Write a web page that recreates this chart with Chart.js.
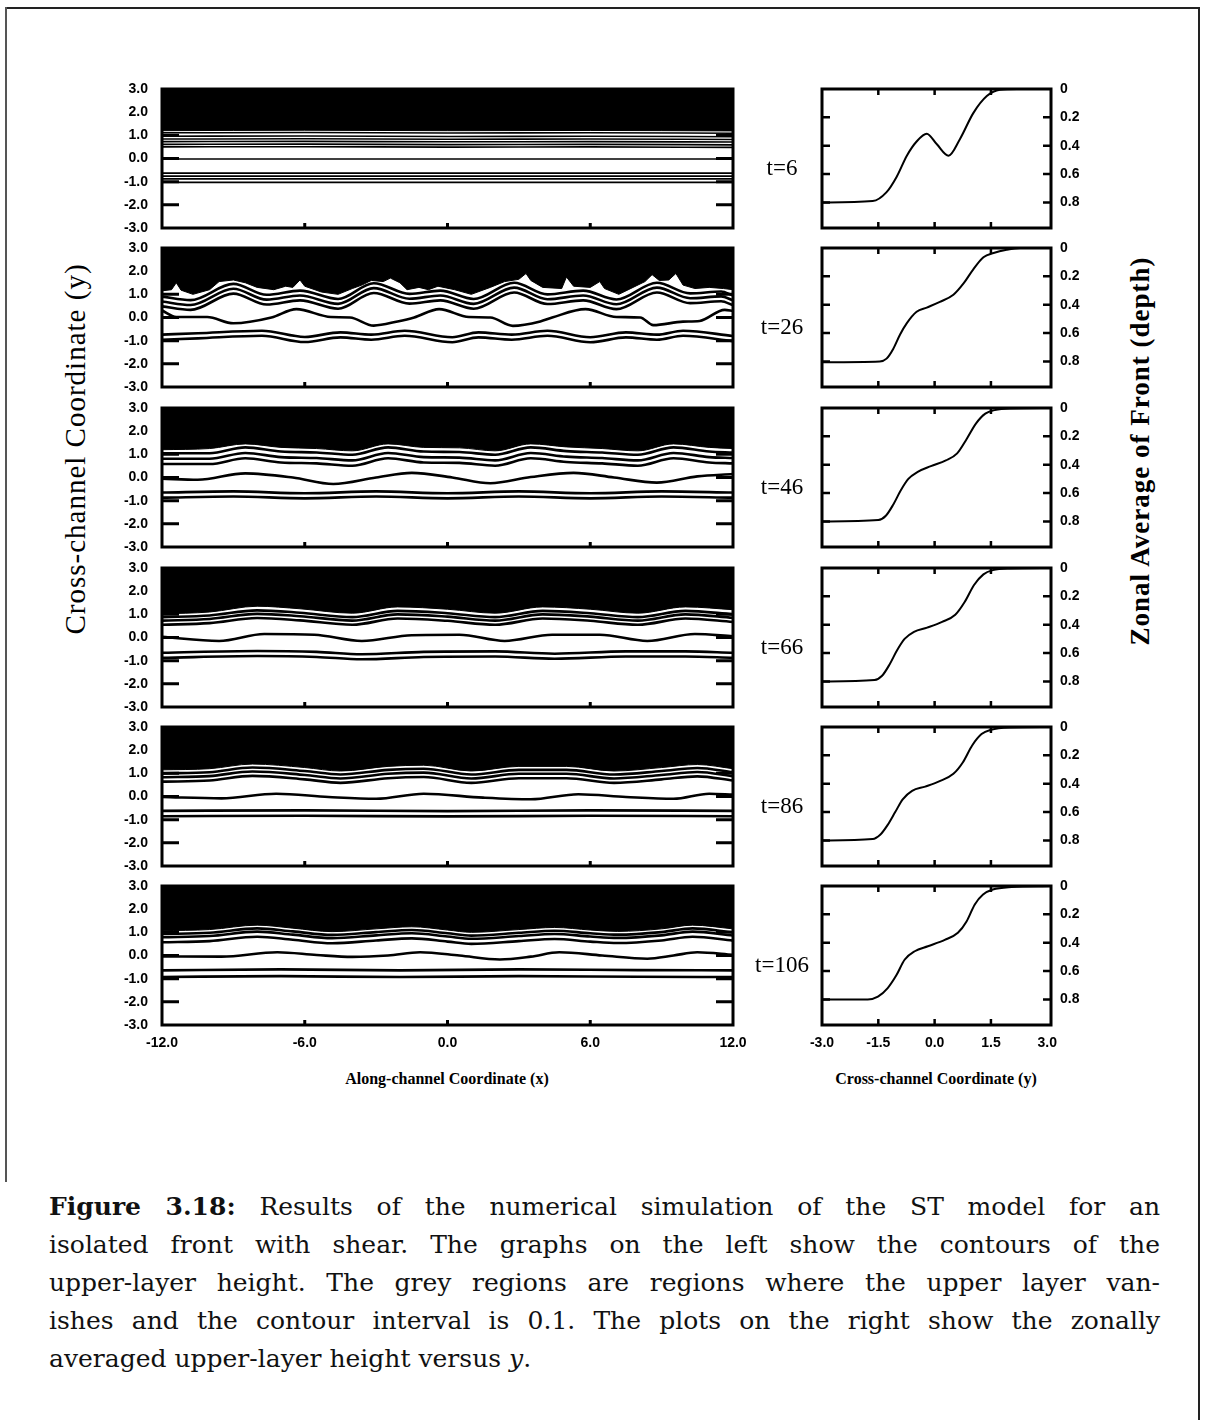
<!DOCTYPE html>
<html lang="en">
<head>
<meta charset="UTF-8" />
<title>Figure 3.18 – ST model, isolated front with shear</title>
<script src="https://cdn.jsdelivr.net/npm/chart.js"></script>
<style>
  body { margin: 0; background: #fff; }
  #page { position: relative; width: 1209px; height: 1420px; overflow: hidden; background: #fff; }
  .rule { position: absolute; background: #222; }
  .tlab { position: absolute; width: 80px; text-align: center; font: 23px "Liberation Serif", serif; color: #000; }
  .xtitle { position: absolute; transform: translateX(-50%); white-space: nowrap; font: bold 16px "Liberation Serif", serif; color: #000; }
  .vtitle { position: absolute; transform: translate(-50%, -50%) rotate(-90deg); white-space: nowrap; font: 29px "Liberation Serif", serif; letter-spacing: 1px; color: #000; }
  #caption { position: absolute; left: 49px; top: 1188px; width: 1111px; font: 25px "DejaVu Serif", serif; color: #111; }
  #caption div { height: 38px; line-height: 38px; white-space: nowrap; text-align: justify; text-align-last: justify; }
  #caption div.last { text-align-last: left; }
</style>
</head>
<body>
<div id="page">
  <div class="rule" style="left:6px;top:7px;width:1194px;height:2px"></div>
  <div class="rule" style="left:5px;top:7px;width:2px;height:1175px;background:#555"></div>
  <div class="rule" style="left:1198px;top:7px;width:2px;height:1413px"></div>

  <div class="vtitle" style="left:75px;top:449px">Cross-channel Coordinate (y)</div>
  <div class="vtitle" style="left:1140px;top:451px;font-weight:bold;font-size:27px">Zonal Average of Front (depth)</div>
  <div class="xtitle" style="left:447px;top:1070px">Along-channel Coordinate (x)</div>
  <div class="xtitle" style="left:936px;top:1070px">Cross-channel Coordinate (y)</div>

  <div id="caption">
    <div><b>Figure 3.18:</b> Results of the numerical simulation of the ST model for an</div>
    <div>isolated front with shear. The graphs on the left show the contours of the</div>
    <div>upper-layer height. The grey regions are regions where the upper layer van-</div>
    <div>ishes and the contour interval is 0.1. The plots on the right show the zonally</div>
    <div class="last">averaged upper-layer height versus <i>y</i>.</div>
  </div>
</div>

<script>
// ---- axis ticks ----
const xTicks = [-12, -6, 0, 6, 12];
const yTicks = [-3, -2, -1, 0, 1, 2, 3];
const profTicks = [-3, -1.5, 0, 1.5, 3];
const depthTicks = [0, 0.2, 0.4, 0.6, 0.8];
const timeLabels = ['t=6', 't=26', 't=46', 't=66', 't=86', 't=106'];

// ---- t=6 contours ----
const edge6X = [-12, -6, 0, 6, 12];
const edge6Y = [1.2, 1.22, 1.2, 1.21, 1.19];
const up6X = [-12, -6, 0, 6, 12];
const up6Y = [1.11, 1.12, 1.1, 1.11, 1.09];
const up6Off = [0, -0.15, -0.27, -0.38, -0.5, -0.61];
const mid6X = [-12, 12];
const mid6Y = [-0.02, -0.02];
const low6X = [-12, 12];
const low6Y = [-0.63, -0.63];
const low6Off = [0, -0.13, -0.25, -0.4];

// ---- t=26 contours ----
const edge26X = [-12, -11.6, -11.4, -11.2, -10.7, -10, -9.6, -9.0, -8.5, -8.0, -7.3, -6.8, -6.5, -6.2, -6.0, -5.3, -4.6, -4.0, -3.6, -3.2, -2.7, -2.4, -2.0, -1.7, -1.2, -0.8, -0.4, 0.3, 1.0, 1.8, 2.4, 3.0, 3.3, 3.5, 4.0, 4.8, 5.0, 5.3, 6.0, 6.4, 6.6, 7.2, 7.8, 8.3, 8.6, 8.9, 9.3, 9.6, 9.9, 10.4, 11.0, 11.6, 12];
const edge26Y = [1.15, 1.2, 1.5, 1.18, 1.0, 1.2, 1.55, 1.62, 1.5, 1.3, 1.2, 1.35, 1.3, 1.62, 1.35, 1.1, 1.0, 1.25, 1.4, 1.6, 1.55, 1.7, 1.5, 1.2, 1.3, 1.2, 1.35, 1.2, 1.0, 1.3, 1.55, 1.65, 1.9, 1.6, 1.3, 1.25, 1.75, 1.35, 1.3, 1.55, 1.25, 1.0, 1.3, 1.55, 1.85, 1.6, 1.62, 1.9, 1.4, 1.25, 1.3, 1.25, 1.2];
const up26X = [-12, -10.8, -9.0, -7.6, -6.2, -4.6, -3.1, -1.6, -0.3, 1.1, 2.8, 4.2, 5.7, 7.1, 8.8, 10.2, 11.5, 12];
const up26Y = [0.9, 0.75, 1.45, 0.98, 1.16, 0.8, 1.48, 1.02, 1.16, 0.8, 1.5, 1.0, 1.16, 0.78, 1.5, 1.04, 1.12, 0.95];
const up26Off = [0, -0.21, -0.42];
const mid26X = [-12, -11.4, -10.1, -9.0, -7.4, -6.35, -4.9, -4.1, -3.1, -2.1, -1.4, -0.35, 0.9, 1.8, 2.75, 3.9, 4.4, 5.8, 7.1, 8.1, 8.65, 9.9, 10.6, 11.65, 12];
const mid26Y = [0.3, 0.02, 0.02, -0.25, 0.0, 0.36, 0.02, 0.0, -0.35, -0.17, 0.0, 0.36, 0.02, 0.0, -0.36, -0.17, 0.0, 0.36, 0.02, 0.0, -0.33, -0.18, -0.15, 0.33, 0.28];
const low26X = [-12, -10.5, -7.8, -6.0, -4.5, -3.2, -1.8, 0.2, 1.3, 2.7, 4.2, 6.0, 7.5, 8.8, 9.9, 12];
const low26Y = [-0.74, -0.68, -0.57, -0.84, -0.64, -0.74, -0.57, -0.85, -0.64, -0.74, -0.57, -0.85, -0.64, -0.74, -0.57, -0.8];
const low26Off = [0, -0.22];

// ---- t=46 contours ----
const edge46X = [-12, -10, -8.5, -7, -5.5, -4, -2.5, -1, 0.5, 2, 3.5, 5, 6.5, 8, 9.5, 11, 12];
const edge46Y = [1.2, 1.25, 1.45, 1.3, 1.25, 1.15, 1.45, 1.3, 1.28, 1.15, 1.45, 1.32, 1.25, 1.15, 1.45, 1.3, 1.25];
const up46X = [-12, -10, -8.5, -7, -5.5, -4, -2.5, -1, 0.5, 2, 3.5, 5, 6.5, 8, 9.5, 11, 12];
const up46Y = [1.05, 1.05, 1.3, 1.12, 1.08, 0.98, 1.3, 1.12, 1.1, 0.98, 1.3, 1.14, 1.08, 0.98, 1.3, 1.12, 1.08];
const up46Off = [0, -0.24, -0.47];
const mid46X = [-12, -10.5, -8.5, -6.5, -4.8, -3, -1.5, 0.2, 1.8, 3.5, 5.3, 7, 8.8, 10.5, 12];
const mid46Y = [-0.05, -0.1, 0.18, 0.0, -0.28, 0.0, 0.2, 0.0, -0.25, 0.02, 0.2, 0.0, -0.22, 0.05, 0.15];
const low46X = [-12, -9, -6, -3, 0, 3, 6, 9, 12];
const low46Y = [-0.65, -0.6, -0.68, -0.6, -0.68, -0.6, -0.68, -0.6, -0.65];
const low46Off = [0, -0.22];

// ---- t=66 contours ----
const edge66X = [-12, -10, -8, -6.2, -4, -2.1, 0, 2, 4, 6, 8, 10, 12];
const edge66Y = [1.02, 1.1, 1.35, 1.24, 1.05, 1.32, 1.22, 1.05, 1.32, 1.22, 1.05, 1.32, 1.2];
const up66X = [-12, -10, -8, -6.2, -4, -2.1, 0, 2, 4, 6, 8, 10, 12];
const up66Y = [0.88, 0.95, 1.17, 1.07, 0.88, 1.15, 1.05, 0.88, 1.15, 1.05, 0.88, 1.15, 1.0];
const up66Off = [0, -0.15, -0.33];
const mid66X = [-12, -9.6, -7.7, -5.6, -3.6, -1.5, 0.5, 2.4, 4.4, 6.4, 8.4, 10.4, 12];
const mid66Y = [0.03, -0.15, 0.15, 0.12, -0.15, 0.1, 0.12, -0.15, 0.12, 0.12, -0.15, 0.15, 0.05];
const low66X = [-12, -8, -5.5, -3.6, -1, 2, 4.5, 7.5, 10, 12];
const low66Y = [-0.66, -0.58, -0.62, -0.72, -0.62, -0.6, -0.7, -0.6, -0.6, -0.66];
const low66Off = [0, -0.22];

// ---- t=86 contours ----
const edge86X = [-12, -10, -8.2, -6, -4.5, -2.5, -1, 1, 3, 5, 7, 9, 10.5, 12];
const edge86Y = [1.15, 1.2, 1.4, 1.25, 1.1, 1.3, 1.35, 1.1, 1.3, 1.3, 1.1, 1.25, 1.38, 1.2];
const up86X = [-12, -10, -8.2, -6, -4.5, -2.5, -1, 1, 3, 5, 7, 9, 10.5, 12];
const up86Y = [1.0, 1.05, 1.25, 1.1, 0.95, 1.15, 1.2, 0.95, 1.15, 1.15, 0.95, 1.1, 1.23, 1.05];
const up86Off = [0, -0.17, -0.36];
const mid86X = [-12, -9.5, -7.2, -5, -3, -1, 1.5, 3.5, 5.5, 7.5, 9.5, 11, 12];
const mid86Y = [-0.02, -0.08, 0.12, -0.02, -0.1, 0.12, -0.05, -0.12, 0.1, -0.02, -0.1, 0.12, 0.08];
const low86X = [-12, -6, 0, 6, 12];
const low86Y = [-0.62, -0.6, -0.63, -0.6, -0.62];
const low86Off = [0, -0.23];

// ---- t=106 contours ----
const edge106X = [-12, -10, -8.0, -6.5, -4.85, -3, -1.5, 0, 1.0, 3, 4.5, 6, 7.15, 9, 10.3, 12];
const edge106Y = [1.07, 1.12, 1.31, 1.18, 1.03, 1.15, 1.24, 1.1, 1.0, 1.12, 1.21, 1.1, 1.04, 1.15, 1.31, 1.15];
const up106X = [-12, -10, -8.0, -6.5, -4.85, -3, -1.5, 0, 1.0, 3, 4.5, 6, 7.15, 9, 10.3, 12];
const up106Y = [0.93, 0.98, 1.17, 1.04, 0.89, 1.01, 1.1, 0.96, 0.86, 0.98, 1.07, 0.96, 0.9, 1.01, 1.17, 1.0];
const up106Off = [0, -0.14, -0.36];
const mid106X = [-12, -9.5, -7.15, -5.5, -4.0, -2.5, -1.15, 0.5, 2.2, 3.5, 4.7, 6.5, 8.4, 9.5, 10.5, 12];
const mid106Y = [-0.04, -0.05, 0.14, 0.02, -0.06, 0.0, 0.14, 0.0, -0.17, -0.05, 0.14, 0.0, -0.14, 0.0, 0.14, 0.03];
const low106X = [-12, -7, -2, 3, 8, 12];
const low106Y = [-0.64, -0.6, -0.64, -0.6, -0.63, -0.64];
const low106Off = [0, -0.29];

// ---- zonal averages (depth vs y) ----
const prof6Y = [-3, -1.65, -1.28, -1.01, -0.74, -0.48, -0.21, 0.06, 0.37, 0.68, 1.03, 1.39, 1.74, 2.2, 3.1];
const depth6 = [0.8, 0.79, 0.727, 0.618, 0.47, 0.37, 0.315, 0.39, 0.47, 0.35, 0.17, 0.05, 0.005, 0, 0];
const prof26Y = [-3, -1.46, -1.28, -1.1, -0.92, -0.74, -0.48, -0.21, 0.14, 0.5, 0.77, 1.03, 1.3, 1.57, 1.92, 2.28, 3.1];
const depth26 = [0.805, 0.8, 0.78, 0.71, 0.61, 0.53, 0.45, 0.42, 0.38, 0.33, 0.25, 0.15, 0.065, 0.035, 0.012, 0, 0];
const prof46Y = [-3, -1.5, -1.3, -1.1, -0.9, -0.7, -0.45, -0.1, 0.3, 0.6, 0.85, 1.1, 1.35, 1.6, 2.0, 3.1];
const depth46 = [0.8, 0.79, 0.76, 0.68, 0.58, 0.5, 0.45, 0.41, 0.37, 0.32, 0.22, 0.11, 0.04, 0.015, 0.003, 0];
const prof66Y = [-3, -1.6, -1.4, -1.2, -1.0, -0.8, -0.55, -0.2, 0.2, 0.55, 0.8, 1.05, 1.3, 1.55, 2.0, 3.1];
const depth66 = [0.8, 0.79, 0.76, 0.68, 0.58, 0.5, 0.45, 0.42, 0.38, 0.33, 0.24, 0.12, 0.045, 0.015, 0.003, 0];
const prof86Y = [-3, -1.65, -1.45, -1.25, -1.05, -0.85, -0.6, -0.25, 0.15, 0.5, 0.75, 1.0, 1.25, 1.5, 2.0, 3.1];
const depth86 = [0.8, 0.79, 0.76, 0.69, 0.6, 0.51, 0.45, 0.42, 0.38, 0.33, 0.25, 0.13, 0.05, 0.02, 0.004, 0];
const prof106Y = [-3, -1.78, -1.51, -1.25, -1.02, -0.8, -0.53, -0.18, 0.27, 0.62, 0.85, 1.07, 1.29, 1.55, 2.05, 3.1];
const depth106 = [0.8, 0.8, 0.78, 0.72, 0.63, 0.52, 0.46, 0.425, 0.38, 0.33, 0.25, 0.13, 0.06, 0.025, 0.007, 0];

// ---- page layout ----
const panelTops = [89, 248, 408, 568, 727, 886];
const plotH = 139;
const leftPlotX = 162, leftPlotW = 571;
const rightPlotX = 822, rightPlotW = 229;

const contourPanels = [
  { lw: 1.6, edgeX: edge6X, edgeY: edge6Y, sharp: false, upX: up6X, upY: up6Y, upOff: up6Off, midX: mid6X, midY: mid6Y, lowX: low6X, lowY: low6Y, lowOff: low6Off },
  { lw: 2.6, edgeX: edge26X, edgeY: edge26Y, sharp: true, upX: up26X, upY: up26Y, upOff: up26Off, midX: mid26X, midY: mid26Y, lowX: low26X, lowY: low26Y, lowOff: low26Off },
  { lw: 2.6, edgeX: edge46X, edgeY: edge46Y, sharp: false, upX: up46X, upY: up46Y, upOff: up46Off, midX: mid46X, midY: mid46Y, lowX: low46X, lowY: low46Y, lowOff: low46Off },
  { lw: 2.6, edgeX: edge66X, edgeY: edge66Y, sharp: false, upX: up66X, upY: up66Y, upOff: up66Off, midX: mid66X, midY: mid66Y, lowX: low66X, lowY: low66Y, lowOff: low66Off },
  { lw: 2.6, edgeX: edge86X, edgeY: edge86Y, sharp: false, upX: up86X, upY: up86Y, upOff: up86Off, midX: mid86X, midY: mid86Y, lowX: low86X, lowY: low86Y, lowOff: low86Off },
  { lw: 2.6, edgeX: edge106X, edgeY: edge106Y, sharp: false, upX: up106X, upY: up106Y, upOff: up106Off, midX: mid106X, midY: mid106Y, lowX: low106X, lowY: low106Y, lowOff: low106Off }
];
const profiles = [
  [prof6Y, depth6], [prof26Y, depth26], [prof46Y, depth46],
  [prof66Y, depth66], [prof86Y, depth86], [prof106Y, depth106]
];

Chart.defaults.font.family = '"Liberation Sans", sans-serif';
Chart.defaults.font.size = 14;
Chart.defaults.font.weight = 'bold';
Chart.defaults.color = '#000';

const page = document.getElementById('page');

// frame and inward tick marks, placed through the chart's scales
const framePlugin = {
  id: 'frame',
  afterDatasetsDraw(chart, args, o) {
    const { ctx, chartArea: a } = chart;
    const sx = chart.scales.x, sy = chart.scales.y;
    ctx.save();
    ctx.strokeStyle = '#000';
    ctx.lineWidth = o.tickWidth;
    ctx.beginPath();
    o.yMarks.forEach(v => {
      const py = sy.getPixelForValue(v);
      ctx.moveTo(a.left, py); ctx.lineTo(a.left + o.yLen, py);
      ctx.moveTo(a.right - o.yLen, py); ctx.lineTo(a.right, py);
    });
    o.xMarks.forEach(v => {
      const px = sx.getPixelForValue(v);
      ctx.moveTo(px, a.top); ctx.lineTo(px, a.top + o.xLen);
      ctx.moveTo(px, a.bottom); ctx.lineTo(px, a.bottom - o.xLen);
    });
    ctx.stroke();
    ctx.lineWidth = o.border;
    ctx.strokeRect(a.left, a.top, a.right - a.left, a.bottom - a.top);
    ctx.restore();
  }
};

function addCanvas(left, top, w, h) {
  const c = document.createElement('canvas');
  c.width = w; c.height = h;
  c.style.cssText = `position:absolute;left:${left}px;top:${top}px;width:${w}px;height:${h}px`;
  page.appendChild(c);
  return c;
}

const pts = (xs, ys, off = 0) => xs.map((x, i) => ({ x, y: ys[i] + off }));
const contour = (data, lw) => ({ data, borderColor: '#000', borderWidth: lw, pointRadius: 0, fill: false, cubicInterpolationMode: 'monotone' });

const baseOpts = {
  responsive: false,
  devicePixelRatio: 1,
  animation: false,
  events: [],
  plugins: { legend: { display: false }, tooltip: { enabled: false } }
};
const noGrid = { display: false, drawTicks: false };

// generous fixed paddings so the plot areas land exactly where wanted
const PAD_V = 26, PAD_H = 34, X_AXIS_H = 30;

contourPanels.forEach((p, i) => {
  const last = i === contourPanels.length - 1;
  const yAxisW = 54;
  const bottomH = last ? X_AXIS_H : PAD_V;
  const c = addCanvas(leftPlotX - yAxisW, panelTops[i] - PAD_V, yAxisW + leftPlotW + PAD_H, PAD_V + plotH + bottomH);

  const datasets = [{
    data: pts(p.edgeX, p.edgeY), fill: 'end', backgroundColor: '#000', borderColor: '#000',
    borderWidth: 1, pointRadius: 0, tension: 0,
    cubicInterpolationMode: p.sharp ? 'default' : 'monotone'
  }];
  p.upOff.forEach(o => datasets.push(contour(pts(p.upX, p.upY, o), p.lw)));
  datasets.push(contour(pts(p.midX, p.midY), p.lw));
  p.lowOff.forEach(o => datasets.push(contour(pts(p.lowX, p.lowY, o), p.lw)));

  new Chart(c, {
    type: 'line',
    data: { datasets },
    plugins: [framePlugin],
    options: {
      ...baseOpts,
      layout: { padding: { top: PAD_V, right: PAD_H, bottom: last ? 0 : PAD_V, left: 0 } },
      plugins: { ...baseOpts.plugins, frame: { yMarks: [-2, -1, 0, 1, 2], yLen: 17, xMarks: [-6, 0, 6], xLen: 5, tickWidth: 3, border: 3 } },
      scales: {
        x: {
          type: 'linear', min: -12, max: 12, display: last,
          grid: noGrid, border: { display: false },
          afterBuildTicks: s => { s.ticks = xTicks.map(v => ({ value: v })); },
          afterFit: s => { if (last) s.height = X_AXIS_H; },
          ticks: { padding: 10, maxRotation: 0, autoSkip: false, callback: v => v.toFixed(1) }
        },
        y: {
          type: 'linear', min: -3, max: 3,
          grid: noGrid, border: { display: false },
          afterBuildTicks: s => { s.ticks = yTicks.map(v => ({ value: v })); },
          afterFit: s => { s.width = yAxisW; },
          ticks: { padding: 14, autoSkip: false, callback: v => v.toFixed(1) }
        }
      }
    }
  });
});

profiles.forEach(([ys, ds], i) => {
  const last = i === profiles.length - 1;
  const yAxisW = 44;
  const bottomH = last ? X_AXIS_H : PAD_V;
  const c = addCanvas(rightPlotX - PAD_H, panelTops[i] - PAD_V, PAD_H + rightPlotW + yAxisW, PAD_V + plotH + bottomH);

  new Chart(c, {
    type: 'line',
    data: { datasets: [{ data: pts(ys, ds), borderColor: '#000', borderWidth: 2, pointRadius: 0, fill: false, cubicInterpolationMode: 'monotone' }] },
    plugins: [framePlugin],
    options: {
      ...baseOpts,
      layout: { padding: { top: PAD_V, right: 0, bottom: last ? 0 : PAD_V, left: PAD_H } },
      plugins: { ...baseOpts.plugins, frame: { yMarks: [0.2, 0.4, 0.6, 0.8], yLen: 8, xMarks: [-1.5, 0, 1.5], xLen: 6, tickWidth: 2.5, border: 3 } },
      scales: {
        x: {
          type: 'linear', min: -3, max: 3.1, display: last,
          grid: noGrid, border: { display: false },
          afterBuildTicks: s => { s.ticks = profTicks.map(v => ({ value: v })); },
          afterFit: s => { if (last) s.height = X_AXIS_H; },
          ticks: { padding: 10, maxRotation: 0, autoSkip: false, callback: v => v.toFixed(1) }
        },
        y: {
          type: 'linear', position: 'right', reverse: true, min: 0, max: 0.98,
          grid: noGrid, border: { display: false },
          afterBuildTicks: s => { s.ticks = depthTicks.map(v => ({ value: v })); },
          afterFit: s => { s.width = yAxisW; },
          ticks: { padding: 9, autoSkip: false, callback: v => (v === 0 ? '0' : v.toFixed(1)) }
        }
      }
    }
  });

  const lab = document.createElement('div');
  lab.className = 'tlab';
  lab.style.left = '742px';
  lab.style.top = (panelTops[i] + 66) + 'px';
  lab.textContent = timeLabels[i];
  page.appendChild(lab);
});
</script>
</body>
</html>
